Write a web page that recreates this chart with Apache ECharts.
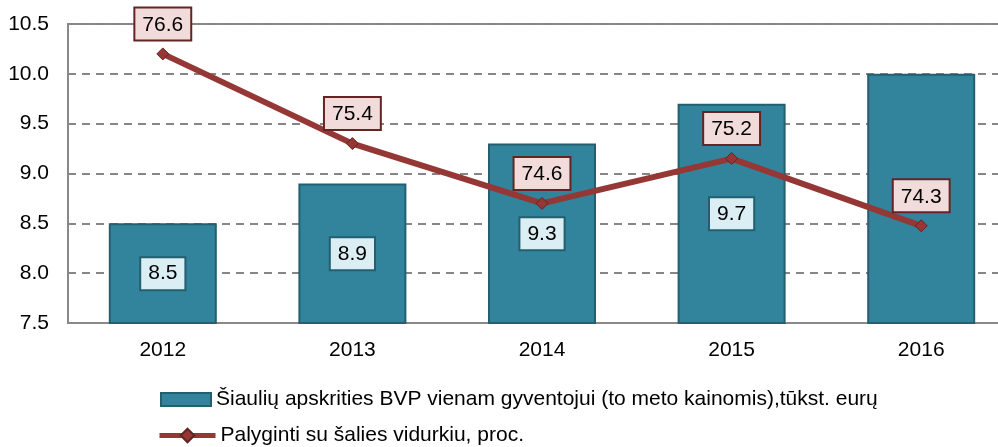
<!DOCTYPE html>
<html>
<head>
<meta charset="utf-8">
<script src="https://cdn.jsdelivr.net/npm/echarts@6/dist/echarts.min.js"></script>
<style>
  html, body { margin: 0; padding: 0; background: #fff; }
  #chart { width: 998px; height: 447px; }
</style>
</head>
<body>
<div id="chart"></div>
<script>
// metai
const years = ['2012', '2013', '2014', '2015', '2016'];
// BVP vienam gyventojui, tūkst. eurų
const gdp = [8.5, 8.9, 9.3, 9.7, 10.0];
// 2016 stulpelio reikšmė paveiksle nerodoma
const gdpLabelShown = [true, true, true, true, false];
// palyginti su šalies vidurkiu, proc.
const share = [76.6, 75.4, 74.6, 75.2, 74.3];

const leftTicks = { min: 7.5, max: 10.5, interval: 0.5 };
const rightRange = { min: 73, max: 77 };

const barName = 'Šiaulių apskrities BVP vienam gyventojui (to meto kainomis),tūkst. eurų';
const lineName = 'Palyginti su šalies vidurkiu, proc.';

const font = 'Liberation Sans, Arial, sans-serif';
const fs = 21;

const legendText = { fontSize: fs, color: '#000', fontFamily: font };

const chart = echarts.init(document.getElementById('chart'));
chart.setOption({
  animation: false,
  textStyle: { fontFamily: font },
  grid: {
    left: 68, top: 24, width: 948, height: 299,
    outerBoundsMode: 'none',
    containLabel: false,
    show: true, borderColor: '#898989', borderWidth: 2
  },
  legend: [
    {
      left: 155, top: 384,
      itemWidth: 50, itemHeight: 13,
      textStyle: legendText,
      data: [{ name: barName, icon: 'rect' }]
    },
    {
      left: 152, top: 420,
      itemWidth: 56, itemHeight: 17,
      textStyle: legendText,
      data: [{ name: lineName, lineStyle: { width: 5 } }]
    }
  ],
  xAxis: {
    type: 'category',
    data: years,
    axisLine: { lineStyle: { color: '#898989', width: 2 } },
    axisTick: { show: false },
    axisLabel: { fontSize: fs, color: '#000', margin: 17 }
  },
  yAxis: [
    {
      type: 'value',
      min: leftTicks.min, max: leftTicks.max, interval: leftTicks.interval,
      axisLine: { show: true, lineStyle: { color: '#898989', width: 2 } },
      axisTick: { show: false },
      axisLabel: {
        fontSize: fs, color: '#000', margin: 19,
        formatter: v => v.toFixed(1)
      },
      splitLine: { lineStyle: { color: '#868686', width: 2, type: [8, 6] } }
    },
    {
      type: 'value',
      min: rightRange.min, max: rightRange.max,
      show: false,
      splitLine: { show: false }
    }
  ],
  series: [
    {
      name: barName,
      type: 'bar',
      barWidth: 108,
      yAxisIndex: 0,
      itemStyle: { color: '#31849b', borderColor: '#235f6f', borderWidth: 2 },
      label: {
        show: true,
        position: 'inside',
        fontSize: fs,
        color: '#000',
        backgroundColor: '#dbeef4',
        borderColor: '#235f6f',
        borderWidth: 2,
        padding: [6, 7, 4, 7],
        formatter: p => p.value.toFixed(1)
      },
      data: gdp.map((v, i) => ({ value: v, label: { show: gdpLabelShown[i] } })),
      z: 2
    },
    {
      name: lineName,
      type: 'line',
      yAxisIndex: 1,
      data: share,
      symbol: 'diamond',
      symbolSize: 12,
      lineStyle: { color: '#953735', width: 6 },
      itemStyle: { color: '#953735', borderColor: '#632523', borderWidth: 1 },
      label: {
        show: true,
        position: 'top',
        distance: 8,
        fontSize: fs,
        color: '#000',
        backgroundColor: '#f2dcdb',
        borderColor: '#632523',
        borderWidth: 2,
        padding: [6, 7, 4, 7],
        formatter: p => p.value.toFixed(1)
      },
      z: 3
    }
  ]
});
</script>
</body>
</html>
